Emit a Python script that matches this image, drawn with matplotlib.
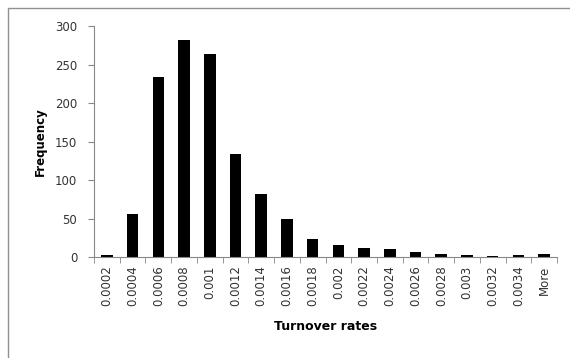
import matplotlib
matplotlib.use("Agg")
import matplotlib.pyplot as plt
import numpy as np

bins = ['0.0002', '0.0004', '0.0006', '0.0008', '0.001', '0.0012', '0.0014',
        '0.0016', '0.0018', '0.002', '0.0022', '0.0024', '0.0026', '0.0028',
        '0.003', '0.0032', '0.0034', 'More']
freq = [3, 56, 234, 282, 263, 134, 82, 49, 24, 16, 12, 10, 7, 4, 2, 1, 2, 4]

fig = plt.figure(figsize=(5.7, 3.58), dpi=100)
# outer chart border
fig.patches.append(plt.Rectangle((8 / 570, -0.01), 1.0, 1 - 8 / 358 + 0.01,
                                 transform=fig.transFigure, fill=False,
                                 edgecolor='#909090', linewidth=1.0))

ax = fig.add_axes([94 / 570, 1 - 257 / 358, (557 - 94) / 570, (257 - 26) / 358])
x = np.arange(len(bins))
ax.bar(x, freq, width=0.45, color='black')

ax.set_xlim(-0.5, len(bins) - 0.5)
ax.set_ylim(0, 300)
ax.set_yticks(range(0, 301, 50))
ax.set_xticks(x)
ax.set_xticklabels(bins, rotation=90, fontsize=8.5, color='#333333')
ax.tick_params(axis='x', length=0, pad=6)
ax.set_xticks(np.arange(-0.5, len(bins)), minor=True)
ax.tick_params(axis='x', which='minor', length=4, color='#888888', direction='out')
ax.tick_params(axis='y', labelsize=8.5, labelcolor='#333333', length=4,
               color='#888888', pad=8)

for s in ['top', 'right']:
    ax.spines[s].set_visible(False)
for s in ['left', 'bottom']:
    ax.spines[s].set_color('#888888')

ax.set_ylabel('Frequency', fontsize=8.5, fontweight='bold', labelpad=6)
ax.set_xlabel('Turnover rates', fontsize=9, fontweight='bold', labelpad=10)

fig.savefig('out.png', dpi=100)
